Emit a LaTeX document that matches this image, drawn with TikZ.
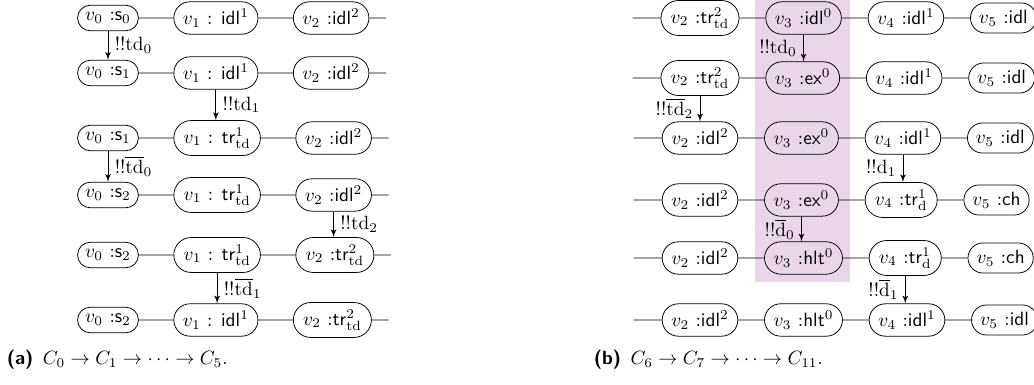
\documentclass[tikz,border=0pt]{standalone}
\usepackage{tikz}
\usetikzlibrary{shapes,arrows,positioning}
\tikzstyle{proc} = [rounded rectangle, draw, inner xsep=3.2pt, inner ysep=3.6pt]
\tikzstyle{line} = [draw, -latex']
\tikzstyle{link} = [draw]
\definecolor{hilite}{RGB}{233,215,233}

\begin{document}
\begin{tikzpicture}[x=0.52pt, y=-0.52pt, node distance=18pt]
    \useasboundingbox (0,0) rectangle (1034,385);
    \fill [hilite] (755,0) rectangle (850,282);
    % Place nodes: (a)
    \node [proc] at (108,18) (a1v0) {$v_0$ :\textsf{s}$_0$};
    \node [proc, right=of a1v0] (a1v1) {$v_1$ : \textsf{idl}$^1$};
    \node [proc, right=of a1v1] (a1v2) {$v_2$ :\textsf{idl}$^2$};
    \node [proc] at (108,73) (a2v0) {$v_0$ :\textsf{s}$_1$};
    \node [proc, right=of a2v0] (a2v1) {$v_1$ : \textsf{idl}$^1$};
    \node [proc, right=of a2v1] (a2v2) {$v_2$ :\textsf{idl}$^2$};
    \node [proc] at (108,138) (a3v0) {$v_0$ :\textsf{s}$_1$};
    \node [proc, right=of a3v0] (a3v1) {$v_1$ : \textsf{tr}$^1_{\mathrm{td}}$};
    \node [proc, right=of a3v1] (a3v2) {$v_2$ :\textsf{idl}$^2$};
    \node [proc] at (108,195) (a4v0) {$v_0$ :\textsf{s}$_2$};
    \node [proc, right=of a4v0] (a4v1) {$v_1$ : \textsf{tr}$^1_{\mathrm{td}}$};
    \node [proc, right=of a4v1] (a4v2) {$v_2$ :\textsf{idl}$^2$};
    \node [proc] at (108,255) (a5v0) {$v_0$ :\textsf{s}$_2$};
    \node [proc, right=of a5v0] (a5v1) {$v_1$ : \textsf{tr}$^1_{\mathrm{td}}$};
    \node [proc, right=of a5v1] (a5v2) {$v_2$ :\textsf{tr}$^2_{\mathrm{td}}$};
    \node [proc] at (108,320) (a6v0) {$v_0$ :\textsf{s}$_2$};
    \node [proc, right=of a6v0] (a6v1) {$v_1$ : \textsf{idl}$^1$};
    \node [proc, right=of a6v1] (a6v2) {$v_2$ :\textsf{tr}$^2_{\mathrm{td}}$};
    \coordinate [right=8.8pt of a1v2] (a1e);
    \coordinate [right=8.8pt of a2v2] (a2e);
    \coordinate [right=8.8pt of a3v2] (a3e);
    \coordinate [right=8.8pt of a4v2] (a4e);
    \coordinate [right=8.8pt of a5v2] (a5e);
    \coordinate [right=8.8pt of a6v2] (a6e);
    % Place nodes: (b)
    \node [proc] at (700,18) (b1v2) {$v_2$ :\textsf{tr}$^2_{\mathrm{td}}$};
    \node [proc, right=13.5pt of b1v2] (b1v3) {$v_3$ :\textsf{idl}$^0$};
    \node [proc, right=13.5pt of b1v3] (b1v4) {$v_4$ :\textsf{idl}$^1$};
    \node [proc, right=13.5pt of b1v4] (b1v5) {$v_5$ :\textsf{idl}};
    \node [proc] at (700,78) (b2v2) {$v_2$ :\textsf{tr}$^2_{\mathrm{td}}$};
    \node [proc, right=13.5pt of b2v2] (b2v3) {$v_3$ :\textsf{ex}$^0$};
    \node [proc, right=13.5pt of b2v3] (b2v4) {$v_4$ :\textsf{idl}$^1$};
    \node [proc, right=13.5pt of b2v4] (b2v5) {$v_5$ :\textsf{idl}};
    \node [proc] at (700,138) (b3v2) {$v_2$ :\textsf{idl}$^2$};
    \node [proc, right=13.5pt of b3v2] (b3v3) {$v_3$ :\textsf{ex}$^0$};
    \node [proc, right=13.5pt of b3v3] (b3v4) {$v_4$ :\textsf{idl}$^1$};
    \node [proc, right=13.5pt of b3v4] (b3v5) {$v_5$ :\textsf{idl}};
    \node [proc] at (700,200) (b4v2) {$v_2$ :\textsf{idl}$^2$};
    \node [proc, right=13.5pt of b4v2] (b4v3) {$v_3$ :\textsf{ex}$^0$};
    \node [proc, right=13.5pt of b4v3] (b4v4) {$v_4$ :\textsf{tr}$^1_{\mathrm{d}}$};
    \node [proc, right=13.5pt of b4v4] (b4v5) {$v_5$ :\textsf{ch}};
    \node [proc] at (700,258) (b5v2) {$v_2$ :\textsf{idl}$^2$};
    \node [proc, right=13.5pt of b5v2] (b5v3) {$v_3$ :\textsf{hlt}$^0$};
    \node [proc, right=13.5pt of b5v3] (b5v4) {$v_4$ :\textsf{tr}$^1_{\mathrm{d}}$};
    \node [proc, right=13.5pt of b5v4] (b5v5) {$v_5$ :\textsf{ch}};
    \node [proc] at (700,320) (b6v2) {$v_2$ :\textsf{idl}$^2$};
    \node [proc, right=13.5pt of b6v2] (b6v3) {$v_3$ :\textsf{hlt}$^0$};
    \node [proc, right=13.5pt of b6v3] (b6v4) {$v_4$ :\textsf{idl}$^1$};
    \node [proc, right=13.5pt of b6v4] (b6v5) {$v_5$ :\textsf{idl}};
    \coordinate [left=14.6pt of b1v2] (b1s);
    \coordinate [left=14.6pt of b2v2] (b2s);
    \coordinate [left=14.6pt of b3v2] (b3s);
    \coordinate [left=14.6pt of b4v2] (b4s);
    \coordinate [left=14.6pt of b5v2] (b5s);
    \coordinate [left=14.6pt of b6v2] (b6s);
    % Captions
    \node [anchor=west] at (0,360) (capa) {\textsf{\textbf{(a)}}\enspace$C_0 \to C_1 \to \cdots \to C_5$.};
    \node [anchor=west] at (587,360) (capb) {\textsf{\textbf{(b)}}\enspace$C_6 \to C_7 \to \cdots \to C_{11}$.};
    % Draw edges: (a)
    \path [link] (a1v0) -- (a1v1) -- (a1v2) -- (a1e);
    \path [link] (a2v0) -- (a2v1) -- (a2v2) -- (a2e);
    \path [link] (a3v0) -- (a3v1) -- (a3v2) -- (a3e);
    \path [link] (a4v0) -- (a4v1) -- (a4v2) -- (a4e);
    \path [link] (a5v0) -- (a5v1) -- (a5v2) -- (a5e);
    \path [link] (a6v0) -- (a6v1) -- (a6v2) -- (a6e);
    \path [line] (a1v0.south) -- node [right] {$!!\mathrm{td}_0$} (a1v0.south |- a2v0.north);
    \path [line] (a2v1.south) -- node [right] {$!!\mathrm{td}_1$} (a2v1.south |- a3v1.north);
    \path [line] (a3v0.south) -- node [right] {$!!\overline{\mathrm{td}}_0$} (a3v0.south |- a4v0.north);
    \path [line] (a4v2.south) -- node [right] {$!!\mathrm{td}_2$} (a4v2.south |- a5v2.north);
    \path [line] (a5v1.south) -- node [right] {$!!\overline{\mathrm{td}}_1$} (a5v1.south |- a6v1.north);
    % Draw edges: (b)
    \path [link] (b1s) -- (b1v2) -- (b1v3) -- (b1v4) -- (b1v5);
    \path [link] (b2s) -- (b2v2) -- (b2v3) -- (b2v4) -- (b2v5);
    \path [link] (b3s) -- (b3v2) -- (b3v3) -- (b3v4) -- (b3v5);
    \path [link] (b4s) -- (b4v2) -- (b4v3) -- (b4v4) -- (b4v5);
    \path [link] (b5s) -- (b5v2) -- (b5v3) -- (b5v4) -- (b5v5);
    \path [link] (b6s) -- (b6v2) -- (b6v3) -- (b6v4) -- (b6v5);
    \path [line] (b1v3.south) -- node [left] {$!!\mathrm{td}_0$} (b1v3.south |- b2v3.north);
    \path [line] (b2v2.south) -- node [left] {$!!\overline{\mathrm{td}}_2$} (b2v2.south |- b3v2.north);
    \path [line] (b3v4.south) -- node [left] {$!!\mathrm{d}_1$} (b3v4.south |- b4v4.north);
    \path [line] (b4v3.south) -- node [left] {$!!\overline{\mathrm{d}}_0$} (b4v3.south |- b5v3.north);
    \path [line] (b5v4.south) -- node [left] {$!!\overline{\mathrm{d}}_1$} (b5v4.south |- b6v4.north);
\end{tikzpicture}
\end{document}
